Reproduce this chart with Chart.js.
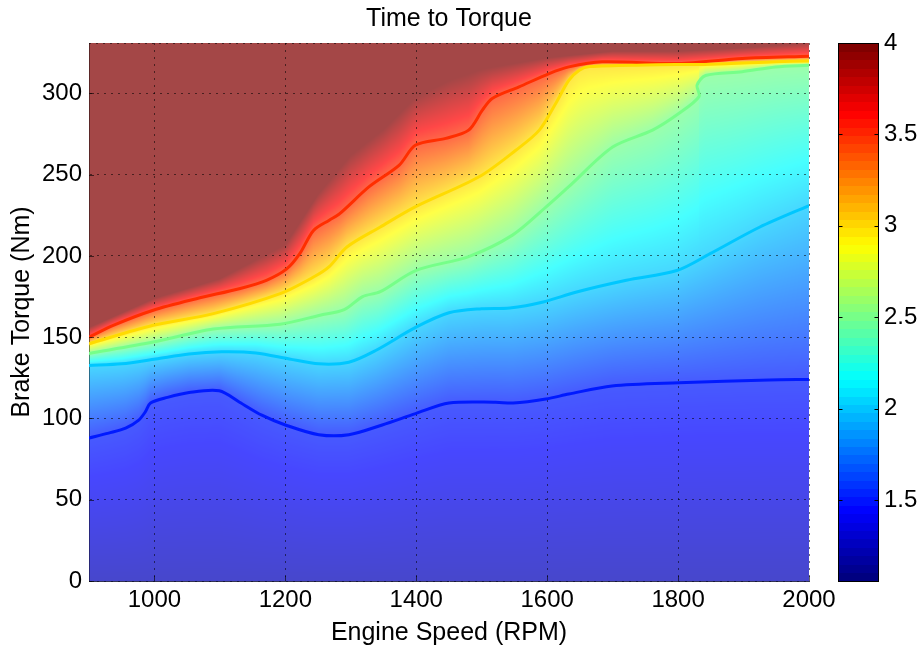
<!DOCTYPE html>
<html>
<head>
<meta charset="utf-8">
<title>Time to Torque</title>
<script src="https://cdn.jsdelivr.net/npm/chart.js@4.4.1/dist/chart.umd.min.js"></script>
<style>
  html, body { margin: 0; padding: 0; background: #fff; }
  #wrap { width: 919px; height: 648px; }
</style>
</head>
<body>
<div id="wrap"><canvas id="torqueMap" width="919" height="648"></canvas></div>
<script>
// axis ranges and tick labels
const rpmRange = [900, 2000];
const torqueRange = [0, 331];
const timeRange = [1.057, 4];
const rpmTicks = [1000, 1200, 1400, 1600, 1800, 2000];
const torqueTicks = [0, 50, 100, 150, 200, 250, 300];
const timeTicks = [1.5, 2, 2.5, 3, 3.5, 4];

// contour levels (s), each traced as [rpm, torque Nm]
const levels = [1.5, 2, 2.5, 3, 3.5];
const contour15 = [[900, 88], [930, 91], [956, 94], [976, 99], [986, 104], [994, 109.5], [1020, 113],
  [1053, 116], [1099, 117], [1130, 110], [1164, 102], [1200, 96], [1251, 90], [1297, 90], [1348, 96],
  [1399, 103], [1450, 109.5], [1521, 110], [1548, 109.5], [1598, 112], [1633, 115], [1699, 120],
  [1801, 122], [1939, 123.7], [2000, 124]];
const contour20 = [[900, 132.6], [950, 133.6], [1002, 136.6], [1053, 139.7], [1103, 141], [1155, 140.3],
  [1206, 136.6], [1251, 133.6], [1297, 134.6], [1338, 141.8], [1399, 156], [1450, 165], [1500, 167.5],
  [1543, 168], [1594, 171.7], [1645, 177.8], [1721, 185], [1798, 191], [1849, 201.4], [1925, 217.8],
  [2000, 231]];
const contour25 = [[900, 140], [998, 147], [1090, 155], [1192, 158], [1253, 163.5], [1290, 167],
  [1318, 175], [1345, 178], [1399, 191], [1480, 199.6], [1547, 212.8], [1598, 230], [1633, 242.6],
  [1700, 267], [1761, 277.4], [1801, 287.6], [1832, 298], [1829, 305], [1842, 311], [1898, 313.3],
  [1949, 316.3], [2000, 317.3]];
const contour30 = [[900, 146], [998, 157.3], [1090, 164.5], [1192, 176.8], [1243, 187], [1267, 193.4],
  [1294, 205.5], [1345, 217.8], [1399, 230.3], [1496, 248.7], [1552, 265], [1588, 277.4], [1613, 293.8],
  [1633, 308], [1649, 314.3], [1665, 316.5], [1750, 317.5], [1850, 318], [1950, 319.5], [2000, 320]];
const contour35 = [[900, 150], [937, 157.3], [998, 166.6], [1064, 173.7], [1131, 180], [1171, 185],
  [1202, 192], [1222, 201.4], [1243, 215.7], [1267, 222], [1283, 226], [1328, 242.6], [1374, 255.9],
  [1399, 268.2], [1445, 272.3], [1480, 277.4], [1501, 289.7], [1516, 296.9], [1557, 304], [1603, 312.2],
  [1633, 316.3], [1684, 319.4], [1801, 318.4], [1898, 321.5], [2000, 322.9]];
const contours = [contour15, contour20, contour25, contour30, contour35];

// torque above which the time sits at the top of the colour range
const saturationEdge = [[900, 156], [1000, 174], [1100, 186], [1200, 207], [1250, 238], [1300, 262],
  [1350, 278], [1400, 298], [1450, 308], [1500, 315], [1600, 322], [1700, 326], [1800, 326],
  [1900, 328], [2000, 331]];
// time at zero torque
const zeroTorqueTime = 1.22;

const FONT = "'Liberation Sans', Arial, sans-serif";
Chart.defaults.font.family = FONT;
Chart.defaults.color = '#000';

function jetT(t) {
  t = Math.min(1, Math.max(0, t));
  const f = k => Math.min(1, Math.max(0, 1.5 - Math.abs(4 * t - k)));
  return [f(3), f(2), f(1)].map(u => Math.round(u * 255));
}
function jet(v) {
  return jetT((v - timeRange[0]) / (timeRange[1] - timeRange[0]));
}
const rgb = c => `rgb(${c[0]},${c[1]},${c[2]})`;

function traceAt(trace, rpm) {
  if (rpm <= trace[0][0]) return trace[0][1];
  for (let i = 0; i < trace.length - 1; i++) {
    const [r0, t0] = trace[i], [r1, t1] = trace[i + 1];
    if (rpm >= Math.min(r0, r1) && rpm <= Math.max(r0, r1)) {
      return r1 === r0 ? t0 : t0 + (t1 - t0) * (rpm - r0) / (r1 - r0);
    }
  }
  return trace[trace.length - 1][1];
}

// time at a given torque, between the contour crossings of one rpm column
function timeAt(tq, cross, edge) {
  if (tq <= cross[0]) return zeroTorqueTime + (levels[0] - zeroTorqueTime) * tq / cross[0];
  for (let k = 1; k < levels.length; k++) {
    if (tq <= cross[k]) {
      const span = Math.max(cross[k] - cross[k - 1], 0.01);
      return levels[k - 1] + (levels[k] - levels[k - 1]) * (tq - cross[k - 1]) / span;
    }
  }
  const last = levels.length - 1;
  if (tq >= edge) return timeRange[1];
  return levels[last] + (timeRange[1] - levels[last]) * (tq - cross[last]) / Math.max(edge - cross[last], 0.01);
}

// shaded surface behind the grid
const surface = {
  id: 'surface',
  beforeDraw(chart) {
    const {ctx, chartArea: a, scales: {x, y}} = chart;
    const left = Math.round(a.left), top = Math.round(a.top);
    const w = Math.round(a.right) - left, h = Math.round(a.bottom) - top;
    const off = document.createElement('canvas');
    off.width = w; off.height = h;
    const octx = off.getContext('2d');
    const img = octx.createImageData(w, h);
    for (let i = 0; i < w; i++) {
      const rpm = x.getValueForPixel(left + i + 0.5);
      const cross = contours.map(c => traceAt(c, rpm));
      const edge = traceAt(saturationEdge, rpm);
      for (let j = 0; j < h; j++) {
        const tq = y.getValueForPixel(top + j + 0.5);
        const col = jet(timeAt(tq, cross, edge));
        const p = (j * w + i) * 4;
        img.data[p] = Math.round(col[0] * 0.72 + 255 * 0.28);
        img.data[p + 1] = Math.round(col[1] * 0.72 + 255 * 0.28);
        img.data[p + 2] = Math.round(col[2] * 0.72 + 255 * 0.28);
        img.data[p + 3] = 255;
      }
    }
    octx.putImageData(img, 0, 0);
    ctx.drawImage(off, left, top);
  }
};

// colour bar to the right of the plot, on the time scale
const colourBar = {
  id: 'colourBar',
  afterDraw(chart) {
    const {ctx, chartArea: a, scales: {c}} = chart;
    const x0 = a.right + 29.5, bw = 40;
    const n = 64, step = (timeRange[1] - timeRange[0]) / n;
    for (let i = 0; i < n; i++) {
      const yTop = c.getPixelForValue(timeRange[0] + (i + 1) * step);
      const yBot = c.getPixelForValue(timeRange[0] + i * step);
      ctx.fillStyle = rgb(jetT(i / (n - 1)));
      ctx.fillRect(x0, Math.floor(yTop), bw, Math.ceil(yBot) - Math.floor(yTop));
    }
    ctx.save();
    ctx.strokeStyle = '#000';
    ctx.lineWidth = 1;
    ctx.strokeRect(x0, Math.round(c.top) + 0.5, bw, Math.round(c.bottom - c.top));
    ctx.beginPath();
    timeTicks.forEach(v => {
      const py = Math.round(c.getPixelForValue(v)) + 0.5;
      ctx.moveTo(x0, py); ctx.lineTo(x0 + 4, py);
      ctx.moveTo(x0 + bw, py); ctx.lineTo(x0 + bw - 4, py);
    });
    ctx.stroke();
    ctx.restore();
  }
};

// short inward tick marks and the dotted top edge
const innerTicks = {
  id: 'innerTicks',
  afterDraw(chart) {
    const {ctx, chartArea: a, scales: {x, y}} = chart;
    ctx.save();
    ctx.strokeStyle = 'rgba(0,0,0,0.6)';
    ctx.lineWidth = 1;
    ctx.beginPath();
    rpmTicks.forEach(v => {
      const px = Math.round(x.getPixelForValue(v)) + 0.5;
      ctx.moveTo(px, a.bottom); ctx.lineTo(px, a.bottom - 5);
    });
    torqueTicks.forEach(v => {
      const py = Math.round(y.getPixelForValue(v)) + 0.5;
      ctx.moveTo(a.left, py); ctx.lineTo(a.left + 5, py);
    });
    ctx.stroke();
    ctx.setLineDash([2, 5]);
    ctx.strokeStyle = 'rgba(0,0,0,0.55)';
    ctx.beginPath();
    ctx.moveTo(a.left, Math.round(a.top) + 0.5);
    ctx.lineTo(a.right, Math.round(a.top) + 0.5);
    ctx.stroke();
    ctx.restore();
  }
};

const fixTicks = list => scale => { scale.ticks = list.map(v => ({value: v})); };
// fixed box sizes; label overhang is left to the neighbouring boxes
const fixWidth = w => s => { s.width = w; s.paddingTop = 0; s.paddingBottom = 0; };
const fixHeight = h => s => { s.height = h; s.paddingLeft = 0; s.paddingRight = 0; };
const tickFont = {size: 24, family: FONT};
const titleFont = {size: 25, family: FONT};
const dotted = {color: 'rgba(0,0,0,0.55)', lineWidth: 1, drawTicks: false};

new Chart(document.getElementById('torqueMap'), {
  type: 'scatter',
  data: {
    datasets: contours.map((trace, k) => ({
      label: levels[k] + ' s',
      data: trace.map(([r, t]) => ({x: r, y: t})),
      showLine: true,
      borderColor: rgb(jet(levels[k])),
      borderWidth: 3,
      pointRadius: 0,
      tension: 0.3,
      fill: false
    }))
  },
  options: {
    responsive: false,
    animation: false,
    devicePixelRatio: 1,
    layout: {padding: 0},
    plugins: {legend: {display: false}, tooltip: {enabled: false}, title: {display: false}},
    scales: {
      x: {
        type: 'linear', position: 'bottom', min: rpmRange[0], max: rpmRange[1],
        afterBuildTicks: fixTicks(rpmTicks),
        afterFit: fixHeight(67),
        grid: dotted,
        border: {display: true, color: 'rgba(0,0,40,0.8)', width: 1, dash: [2, 5]},
        ticks: {font: tickFont, padding: 5, autoSkip: false, maxRotation: 0, callback: v => String(v)},
        title: {display: true, text: 'Engine Speed (RPM)', font: titleFont, padding: {top: 0, bottom: 0}}
      },
      top: {
        type: 'linear', axis: 'x', position: 'top', min: rpmRange[0], max: rpmRange[1],
        afterFit: fixHeight(43),
        grid: {display: false, drawTicks: false},
        border: {display: false},
        ticks: {display: false},
        title: {display: true, text: 'Time to Torque', font: titleFont, padding: {top: 4, bottom: 0}}
      },
      y: {
        type: 'linear', position: 'left', min: torqueRange[0], max: torqueRange[1],
        afterBuildTicks: fixTicks(torqueTicks),
        afterFit: fixWidth(89),
        grid: dotted,
        border: {display: true, color: 'rgba(0,0,0,0.45)', width: 1, dash: [2, 5]},
        ticks: {font: tickFont, padding: 7, autoSkip: false, callback: v => String(v)},
        title: {display: true, text: 'Brake Torque (Nm)', font: titleFont, padding: {top: 7, bottom: 0}}
      },
      c: {
        type: 'linear', axis: 'y', position: 'right', min: timeRange[0], max: timeRange[1],
        afterBuildTicks: fixTicks(timeTicks),
        afterFit: fixWidth(110),
        grid: {display: false, drawTicks: false},
        border: {display: false},
        ticks: {font: tickFont, padding: 75, autoSkip: false, callback: v => String(v)}
      }
    }
  },
  plugins: [surface, colourBar, innerTicks]
});
</script>
</body>
</html>
